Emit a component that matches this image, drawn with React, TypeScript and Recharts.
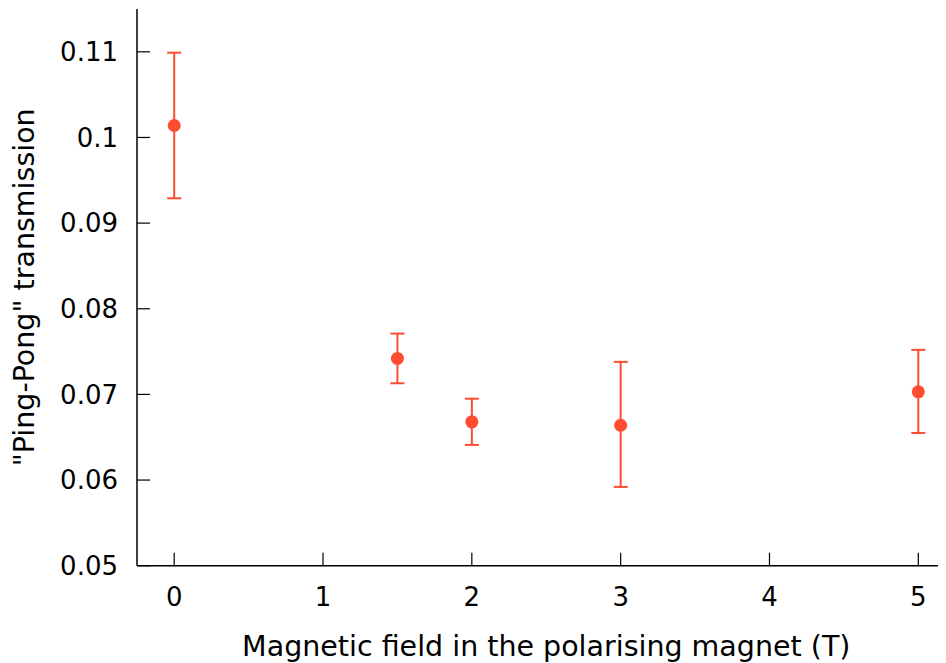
import { ScatterChart, Scatter, XAxis, YAxis, ErrorBar, Label } from "recharts";

// magnetic field (T)
const FIELDS = [0, 1.5, 2, 3, 5];
// "Ping-Pong" transmission, with lower / upper ends of the error bars
const TRANSMISSION = [0.1014, 0.0742, 0.0668, 0.0664, 0.0703];
const ERR_LOW = [0.0929, 0.0713, 0.0641, 0.0592, 0.0655];
const ERR_HIGH = [0.1099, 0.0771, 0.0695, 0.0738, 0.0752];

const X_TICKS = [0, 1, 2, 3, 4, 5];
const Y_TICKS = [0.05, 0.06, 0.07, 0.08, 0.09, 0.1, 0.11];

const RED = "#ff4b30";
const FONT = "'DejaVu Sans', sans-serif";

const data = FIELDS.map((x, i) => ({
  x,
  y: TRANSMISSION[i],
  err: [TRANSMISSION[i] - ERR_LOW[i], ERR_HIGH[i] - TRANSMISSION[i]],
}));

const noTick = () => <g />;
const axisLine = { stroke: "#000", strokeWidth: 1.5 };
const tickLine = { stroke: "#000", strokeWidth: 1.2 };

export default function App() {
  return (
    <div style={{ width: 938, height: 655, overflow: "hidden", fontFamily: FONT }}>
      <ScatterChart width={950} height={655} margin={{ top: 1, right: 0, bottom: 0, left: 0 }}>
        <XAxis
          xAxisId="b"
          type="number"
          dataKey="x"
          domain={[-0.25, 5.25]}
          ticks={X_TICKS}
          allowDataOverflow
          height={97.3}
          tickSize={-13}
          tickMargin={35}
          axisLine={axisLine}
          tickLine={tickLine}
          tick={{ fill: "#000", fontSize: 26, fontFamily: FONT }}
        >
          <Label
            content={({ viewBox }: any) => (
              <text
                x={viewBox.x + viewBox.width / 2}
                y={viewBox.y + 90.3}
                textAnchor="middle"
                fontSize={28.5}
                fontFamily={FONT}
                fill="#000"
              >
                Magnetic field in the polarising magnet (T)
              </text>
            )}
          />
        </XAxis>
        <XAxis
          xAxisId="t"
          orientation="top"
          type="number"
          dataKey="x"
          domain={[-0.25, 5.25]}
          ticks={X_TICKS}
          allowDataOverflow
          height={0}
          tickSize={-13}
          axisLine={axisLine}
          tickLine={tickLine}
          tick={noTick}
        />
        <YAxis
          yAxisId="l"
          type="number"
          dataKey="y"
          domain={[0.05, 0.115]}
          ticks={Y_TICKS}
          allowDataOverflow
          width={129}
          tickSize={-13}
          tickMargin={32}
          axisLine={axisLine}
          tickLine={tickLine}
          tick={{ fill: "#000", fontSize: 26, fontFamily: FONT }}
          tickFormatter={(v: number) => String(v)}
        >
          <Label
            content={({ viewBox }: any) => {
              const cy = viewBox.y + viewBox.height / 2;
              return (
                <text
                  x={26}
                  y={cy}
                  transform={`rotate(-90 26 ${cy})`}
                  textAnchor="middle"
                  fontSize={28.5}
                  fontFamily={FONT}
                  fill="#000"
                >
                  "Ping-Pong" transmission
                </text>
              );
            }}
          />
        </YAxis>
        <YAxis
          yAxisId="r"
          orientation="right"
          type="number"
          dataKey="y"
          domain={[0.05, 0.115]}
          ticks={Y_TICKS}
          allowDataOverflow
          width={2.5}
          tickSize={-13}
          axisLine={axisLine}
          tickLine={tickLine}
          tick={noTick}
        />
        <Scatter
          data={data}
          xAxisId="b"
          yAxisId="l"
          dataKey="y"
          fill={RED}
          isAnimationActive={false}
          shape={(p: any) => <circle cx={p.cx} cy={p.cy} r={6.5} fill={RED} />}
        >
          <ErrorBar dataKey="err" direction="y" width={7} stroke={RED} strokeWidth={2} />
        </Scatter>
      </ScatterChart>
    </div>
  );
}
